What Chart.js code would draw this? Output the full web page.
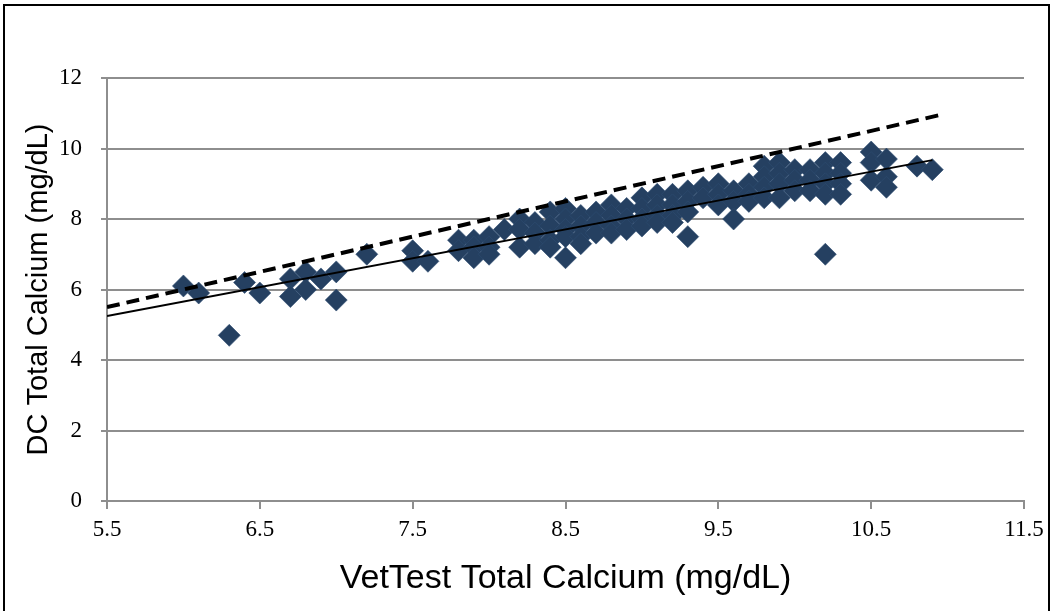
<!DOCTYPE html>
<html>
<head>
<meta charset="utf-8">
<script src="https://cdn.jsdelivr.net/npm/chart.js@4.4.1/dist/chart.umd.min.js"></script>
<style>
  html, body { margin: 0; padding: 0; background: #fff; }
  canvas { display: block; }
</style>
</head>
<body>
<canvas id="calciumChart" width="1052" height="611"></canvas>
<script>
// VetTest vs DC total calcium, one entry per sample (mg/dL)
var vetTest = [
  6.0, 6.1, 6.3, 6.4, 6.5, 6.7, 6.7, 6.8, 6.8, 6.9, 7.0, 7.0, 7.2,
  7.5, 7.5, 7.6, 7.8, 7.8, 7.9, 7.9, 7.9, 8.0, 8.0, 8.0, 8.1,
  8.2, 8.2, 8.2, 8.3, 8.3, 8.3, 8.4, 8.4, 8.4, 8.4,
  8.5, 8.5, 8.5, 8.5, 8.5, 8.6, 8.6, 8.6, 8.6, 8.7, 8.7, 8.7,
  8.8, 8.8, 8.8, 8.8, 8.9, 8.9, 8.9, 9.0, 9.0, 9.0, 9.0,
  9.1, 9.1, 9.1, 9.1, 9.2, 9.2, 9.2, 9.2, 9.3, 9.3, 9.3, 9.3,
  9.4, 9.4, 9.5, 9.5, 9.5, 9.6, 9.6, 9.6, 9.7, 9.7, 9.7,
  9.8, 9.8, 9.8, 9.8, 9.9, 9.9, 9.9, 9.9, 10.0, 10.0, 10.0,
  10.1, 10.1, 10.1, 10.2, 10.2, 10.2, 10.2, 10.2, 10.3, 10.3, 10.3, 10.3,
  10.5, 10.5, 10.5, 10.6, 10.6, 10.6, 10.8, 10.9
];
var dcCalcium = [
  6.1, 5.9, 4.7, 6.2, 5.9, 6.3, 5.8, 6.5, 6.0, 6.3, 6.5, 5.7, 7.0,
  7.1, 6.8, 6.8, 7.4, 7.1, 7.4, 7.2, 6.9, 7.5, 7.2, 7.0, 7.7,
  8.0, 7.7, 7.2, 7.9, 7.6, 7.3, 8.2, 7.8, 7.4, 7.2,
  8.3, 8.0, 7.7, 7.5, 6.9, 8.1, 7.8, 7.5, 7.3, 8.2, 7.9, 7.6,
  8.4, 8.1, 7.8, 7.6, 8.3, 8.0, 7.7, 8.6, 8.3, 8.0, 7.8,
  8.7, 8.4, 8.1, 7.9, 8.7, 8.4, 8.1, 7.9, 8.8, 8.5, 8.2, 7.5,
  8.9, 8.6, 9.0, 8.7, 8.4, 8.8, 8.5, 8.0, 9.0, 8.7, 8.5,
  9.5, 9.2, 8.9, 8.6, 9.6, 9.3, 9.0, 8.6, 9.4, 9.1, 8.8,
  9.4, 9.1, 8.8, 9.6, 9.3, 9.0, 8.7, 7.0, 9.6, 9.3, 9.0, 8.7,
  9.9, 9.6, 9.1, 9.7, 9.2, 8.9, 9.5, 9.4
];

// linear fit (solid) and line of identity (dashed), end points only
var fitX = [5.5, 10.9];
var fitY = [5.25, 9.67];
var identityX = [5.5, 10.95];
var identityY = [5.5, 10.95];

var xTicks = [5.5, 6.5, 7.5, 8.5, 9.5, 10.5, 11.5];
var yTicks = [0, 2, 4, 6, 8, 10, 12];

function toPoints(xs, ys) {
  return xs.map(function (x, i) { return { x: x, y: ys[i] }; });
}

var frame = {
  id: 'frame',
  afterDraw: function (chart) {
    var ctx = chart.ctx;
    ctx.save();
    ctx.strokeStyle = '#000';
    ctx.lineWidth = 2;
    ctx.strokeRect(4, 5, 1045, 700);
    ctx.restore();
  }
};

var gridGray = '#8e8e8e';
var tickFont = { family: '"Liberation Serif", "Times New Roman", serif', size: 23 };

new Chart(document.getElementById('calciumChart').getContext('2d'), {
  type: 'scatter',
  data: {
    datasets: [
      {
        label: 'Samples',
        data: toPoints(vetTest, dcCalcium),
        pointStyle: 'rectRot',
        pointRadius: 11,
        backgroundColor: '#254061',
        borderColor: '#2d4b70',
        borderWidth: 0.6,
        order: 3
      },
      {
        label: 'Linear fit',
        data: toPoints(fitX, fitY),
        showLine: true,
        pointRadius: 0,
        borderColor: '#000',
        borderWidth: 2,
        order: 2
      },
      {
        label: 'Identity',
        data: toPoints(identityX, identityY),
        showLine: true,
        pointRadius: 0,
        borderColor: '#000',
        borderWidth: 4,
        borderDash: [13, 7],
        order: 1
      }
    ]
  },
  options: {
    responsive: false,
    animation: false,
    layout: { padding: { left: 0, top: 78, right: 28, bottom: 0 } },
    plugins: { legend: { display: false }, tooltip: { enabled: false } },
    scales: {
      x: {
        type: 'linear',
        min: 5.5,
        max: 11.5,
        afterBuildTicks: function (s) { s.ticks = xTicks.map(function (v) { return { value: v }; }); },
        afterFit: function (s) { s.height = 110; },
        ticks: {
          autoSkip: false,
          maxRotation: 0,
          padding: 7,
          color: '#000',
          font: tickFont,
          callback: function (v) { return v.toFixed(1); }
        },
        grid: { drawOnChartArea: false, drawTicks: true, tickLength: 8, color: gridGray, lineWidth: 2 },
        border: { display: true, color: gridGray, width: 2 },
        title: {
          display: true, text: 'VetTest Total Calcium (mg/dL)', color: '#000',
          font: { family: '"Liberation Sans", Arial, sans-serif', size: 34 },
          padding: { top: 0, bottom: 12 }
        }
      },
      y: {
        type: 'linear',
        min: 0,
        max: 12,
        afterBuildTicks: function (s) { s.ticks = yTicks.map(function (v) { return { value: v }; }); },
        afterFit: function (s) { s.width = 107; },
        ticks: { padding: 19, color: '#000', font: tickFont },
        grid: { drawTicks: true, tickLength: 6, color: gridGray, lineWidth: 2 },
        border: { display: true, color: gridGray, width: 2 },
        title: {
          display: true, text: 'DC Total Calcium (mg/dL)', color: '#000',
          font: { family: '"Liberation Sans", Arial, sans-serif', size: 29 },
          padding: { top: 22, bottom: 0 }
        }
      }
    }
  },
  plugins: [frame]
});
</script>
</body>
</html>
